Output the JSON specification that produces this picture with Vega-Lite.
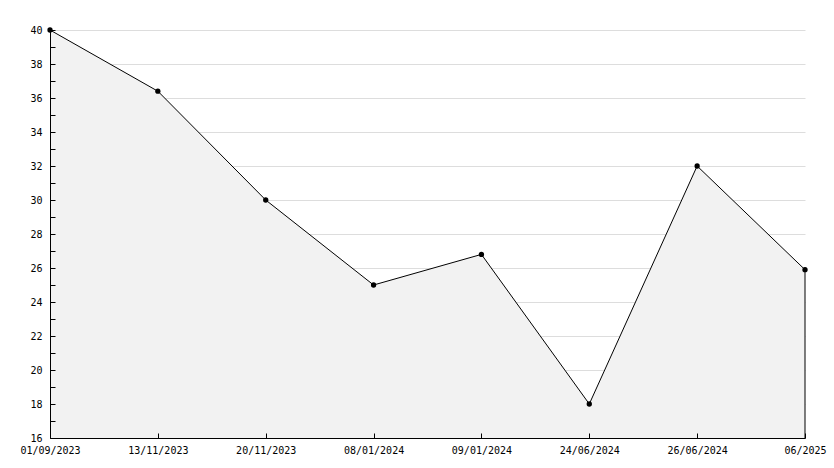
{
  "$schema": "https://vega.github.io/schema/vega-lite/v6.json",
  "autosize": "none",
  "width": 755,
  "height": 408,
  "padding": {"left": 50, "top": 30, "right": 29, "bottom": 30},
  "background": "white",
  "config": {
    "view": {"stroke": null},
    "axis": {"labelFont": "DejaVu Sans Mono", "labelFontSize": 10, "labelColor": "#000000", "domainColor": "#000000", "tickColor": "#000000", "titleFont": "DejaVu Sans Mono"}
  },
  "data": {
    "values": [
      {"date": "01/09/2023", "value": 40},
      {"date": "13/11/2023", "value": 36.4},
      {"date": "20/11/2023", "value": 30},
      {"date": "08/01/2024", "value": 25},
      {"date": "09/01/2024", "value": 26.8},
      {"date": "24/06/2024", "value": 18},
      {"date": "26/06/2024", "value": 32},
      {"date": "06/2025", "value": 25.9}
    ]
  },
  "encoding": {
    "x": {
      "field": "date", "type": "ordinal", "sort": null,
      "scale": {"type": "point", "padding": 0},
      "axis": {"title": null, "labelAngle": 0, "grid": false, "tickSize": -5, "labelPadding": 12, "zindex": 1}
    }
  },
  "resolve": {"axis": {"y": "independent"}},
  "layer": [
    {
      "mark": {"type": "area", "color": "#f2f2f2", "opacity": 1},
      "encoding": {
        "y": {
          "field": "value", "type": "quantitative",
          "scale": {"domain": [16, 40], "nice": false, "zero": false},
          "axis": {"title": null, "orient": "left", "values": [16,18,20,22,24,26,28,30,32,34,36,38,40], "grid": true, "gridColor": "#dddddd", "labels": false, "ticks": false, "domain": false, "zindex": 0}
        },
        "y2": {"datum": 16}
      }
    },
    {
      "mark": {"type": "line", "color": "#000000", "strokeWidth": 1},
      "encoding": {
        "y": {
          "field": "value", "type": "quantitative",
          "axis": {
            "title": null, "orient": "left",
            "values": [16,17,18,19,20,21,22,23,24,25,26,27,28,29,30,31,32,33,34,35,36,37,38,39,40],
            "labelExpr": "datum.value % 2 == 0 ? datum.label : ''",
            "grid": false, "tickSize": -5, "labelPadding": 13, "labelBaseline": "middle", "zindex": 1
          }
        }
      }
    },
    {
      "transform": [{"filter": "datum.date == '06/2025'"}],
      "mark": {"type": "rule", "color": "#000000", "strokeWidth": 1},
      "encoding": {"y": {"field": "value", "type": "quantitative", "axis": null}, "y2": {"datum": 16}}
    },
    {
      "mark": {"type": "point", "filled": true, "color": "#000000", "opacity": 1, "size": 28, "shape": "circle"},
      "encoding": {"y": {"field": "value", "type": "quantitative", "axis": null}}
    }
  ]
}
